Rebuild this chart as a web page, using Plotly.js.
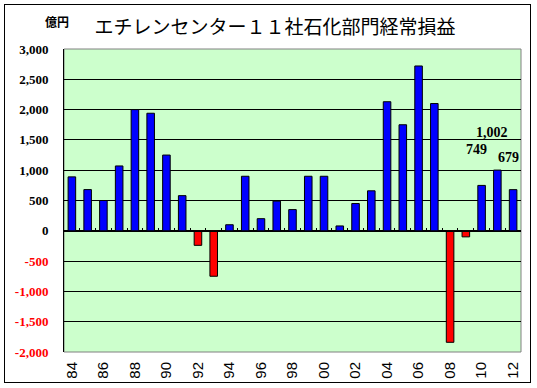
<!DOCTYPE html>
<html>
<head>
<meta charset="utf-8">
<script src="https://cdn.plot.ly/plotly-3.0.1.min.js"></script>
<style>
  html, body { margin: 0; padding: 0; background: #fff; }
  #wrap { position: relative; width: 537px; height: 388px; }
  #chart { position: absolute; left: 0; top: 0; width: 537px; height: 388px; }
  #frame { position: absolute; left: 4px; top: 4px; width: 527px; height: 379px;
           box-sizing: border-box; border: 1px solid #000; pointer-events: none; }
</style>
</head>
<body>
<div id="wrap"><div id="chart"></div><div id="frame"></div></div>
<script>
// Fiscal years (two-digit labels)
const years = ['84','85','86','87','88','89','90','91','92','93','94','95','96','97','98','99',
               '00','01','02','03','04','05','06','07','08','09','10','11','12'];
// Ordinary profit/loss of petrochemical divisions, 11 ethylene-center companies (100 million yen)
const profit = [890, 680, 500, 1070, 2000, 1940, 1250, 580, -240, -750, 100, 900, 200, 490, 350, 900,
                900, 80, 450, 660, 2130, 1750, 2720, 2100, -1840, -100, 749, 1002, 679];
// Y tick values
const yTicks = [-2000, -1500, -1000, -500, 0, 500, 1000, 1500, 2000, 2500, 3000];
// Years whose values are labelled
const labelledYears = ['10', '11', '12'];

const fmt = v => v.toLocaleString('en-US');
const yTickText = yTicks.map(v => v < 0 ? '<span style="color:#ff0000">' + fmt(v) + '</span>' : fmt(v));
const barColors = profit.map(v => v < 0 ? '#ff0000' : '#0000ff');
const idx = years.map((_, i) => i);

const labelStyle = {
  '10': { xshift: -5, yshift: 36 },
  '11': { xshift: -5, yshift: 38 },
  '12': { xshift: -5, yshift: 32 }
};

const annotations = labelledYears.map(y => {
  const i = years.indexOf(y);
  const v = profit[i];
  return {
    x: i, y: v, xref: 'x2', yref: 'y', text: fmt(v), showarrow: false,
    xanchor: 'center', yanchor: 'middle',
    xshift: labelStyle[y].xshift, yshift: labelStyle[y].yshift,
    font: { family: 'Liberation Serif, serif', size: 14, color: '#000', weight: 'bold' }
  };
});
annotations.push({
  xref: 'paper', yref: 'paper', x: -0.015, y: 1.092, text: '<b>億円</b>', showarrow: false,
  xanchor: 'center', yanchor: 'middle',
  font: { family: 'Noto Sans CJK JP, sans-serif', size: 12, color: '#000' }
});

const bars = {
  type: 'bar', x: years, y: profit,
  marker: { color: barColors, line: { color: '#000', width: 1 } },
  hoverinfo: 'x+y'
};
// invisible helper so the zero-line axis (x2) is drawn
const helper = {
  type: 'scatter', x: idx, y: profit, xaxis: 'x2', yaxis: 'y',
  mode: 'none', hoverinfo: 'skip', showlegend: false
};

const layout = {
  width: 537, height: 388,
  margin: { l: 64, r: 16, t: 49, b: 36, pad: 0 },
  paper_bgcolor: '#ffffff', plot_bgcolor: '#ccffcc',
  showlegend: false,
  bargap: 0.52,
  title: {
    text: 'エチレンセンター１１社石化部門経常損益',
    xref: 'container', yref: 'container', x: 275 / 537, y: 1 - 27 / 388,
    xanchor: 'center', yanchor: 'middle',
    font: { family: 'Noto Sans CJK JP, sans-serif', size: 19, color: '#000' }
  },
  xaxis: {
    type: 'category', tickmode: 'linear', tick0: 0, dtick: 2,
    tickangle: -90, ticks: '', showline: false, showgrid: false, zeroline: false,
    ticklabelstandoff: 6,
    tickfont: { family: 'Liberation Sans, Arial, sans-serif', size: 15, color: '#000' },
    fixedrange: true
  },
  xaxis2: {
    overlaying: 'x', anchor: 'free', position: 0.4, side: 'bottom', type: 'linear', range: [-0.5, 28.5],
    tickmode: 'linear', tick0: -0.5, dtick: 1, ticks: 'inside', ticklen: 3, tickwidth: 1,
    tickcolor: '#000', showline: true, linecolor: '#000', linewidth: 1,
    showticklabels: false, showgrid: false, zeroline: false, fixedrange: true
  },
  yaxis: {
    range: [-2000, 3000], tickmode: 'array', tickvals: yTicks, ticktext: yTickText,
    showgrid: true, gridcolor: '#000', gridwidth: 1,
    zeroline: true, zerolinecolor: '#000', zerolinewidth: 1,
    showline: true, linecolor: '#000', linewidth: 1,
    ticks: '', ticklabelstandoff: 12,
    tickfont: { family: 'Liberation Serif, serif', size: 13, color: '#000', weight: 'bold' },
    fixedrange: true
  },
  shapes: [{
    type: 'rect', xref: 'paper', yref: 'paper', x0: 0, x1: 1, y0: 0, y1: 1,
    line: { color: '#808080', width: 1 }, layer: 'below'
  }],
  annotations: annotations
};

Plotly.newPlot('chart', [bars, helper], layout, { displayModeBar: false, staticPlot: true });
</script>
</body>
</html>
